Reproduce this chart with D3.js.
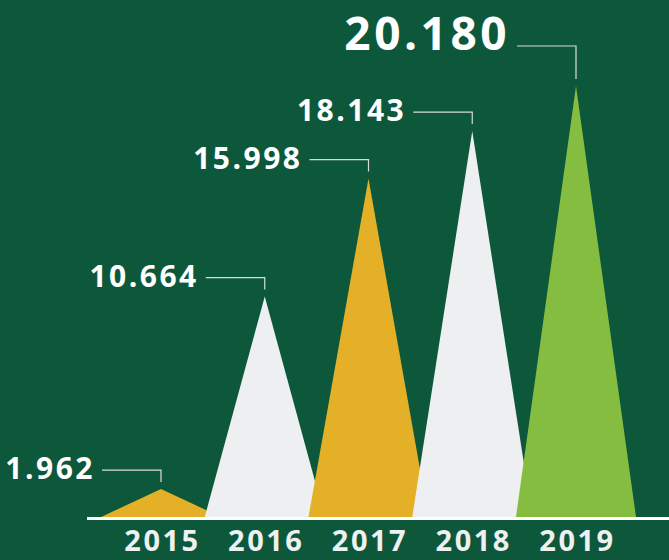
<!DOCTYPE html>
<html>
<head>
<meta charset="utf-8">
<script src="https://cdn.jsdelivr.net/npm/d3@7"></script>
<style>
  html, body { margin: 0; padding: 0; background: #0d583a; }
  svg { display: block; }
</style>
</head>
<body>
<div class="main"></div>
<script>
const years = ['2015', '2016', '2017', '2018', '2019'];
const values = [1962, 10664, 15998, 18143, 20180];
const valueLabels = ['1.962', '10.664', '15.998', '18.143', '20.180'];

const w = 669, h = 560, base = 517, halfWidth = 60;

const data = years.map((y, i) => ({ year: y, value: values[i], label: valueLabels[i] }));
const maxValue = d3.max(values);

const svg = d3.select('.main')
    .append('svg')
    .attr('width', w)
    .attr('height', h)

svg.append('rect')
    .attr('width', w)
    .attr('height', h)
    .attr('fill', '#0d583a')

const x = d3.scalePoint()
    .domain(years)
    .range([161, 576])

const y = d3.scaleLinear()
    .domain([700, maxValue])
    .range([base, 86])

const color = d3.scaleOrdinal()
    .domain(years)
    .range(['#e3b027', '#eeeff1', '#e3b027', '#eeeff1', '#84bd40'])

// peaks, later years drawn on top
svg.append('g')
    .selectAll('path')
    .data(data)
    .enter()
    .append('path')
    .attr('d', d => {
        const cx = x(d.year);
        return `M${cx - halfWidth},${base}L${cx},${y(d.value)}L${cx + halfWidth},${base}Z`;
    })
    .attr('fill', d => color(d.year))

// baseline
svg.append('line')
    .attr('x1', 87)
    .attr('x2', w)
    .attr('y1', base + 1.5)
    .attr('y2', base + 1.5)
    .attr('stroke', '#ffffff')
    .attr('stroke-width', 3)

// year axis
const axis = d3.axisBottom(x).tickSize(0).tickPadding(0);
const axisG = svg.append('g')
    .attr('transform', `translate(0, ${base})`)
    .call(axis)
axisG.select('.domain').remove()
axisG.selectAll('text')
    .attr('y', 34)
    .attr('dy', 0)
    .attr('dx', 1)
    .attr('fill', '#eef0f2')
    .style('font-family', '"Open Sans", sans-serif')
    .style('font-weight', 700)
    .style('font-size', '29px')
    .style('letter-spacing', '2.5px')

// value labels with leader lines
const labels = svg.append('g')
    .selectAll('g')
    .data(data)
    .enter()
    .append('g')

const leaderY = d => y(d.value) - (d.value === maxValue ? 40 : 19);

labels.append('path')
    .attr('d', d => {
        const cx = x(d.year), ly = leaderY(d);
        return `M${cx - 59},${ly}H${cx}V${y(d.value) - 7}`;
    })
    .attr('fill', 'none')
    .attr('stroke', '#d8dcd9')
    .attr('stroke-width', 1.2)

labels.append('text')
    .attr('x', d => x(d.year) - 66)
    .attr('y', d => leaderY(d) + (d.value === maxValue ? 4 : 9))
    .attr('text-anchor', 'end')
    .attr('fill', '#ffffff')
    .style('font-family', '"Open Sans", sans-serif')
    .style('font-weight', 700)
    .style('font-size', d => d.value === maxValue ? '46px' : '30px')
    .style('letter-spacing', d => d.value === maxValue ? '3.5px' : '2.5px')
    .text(d => d.label)
</script>
</body>
</html>
